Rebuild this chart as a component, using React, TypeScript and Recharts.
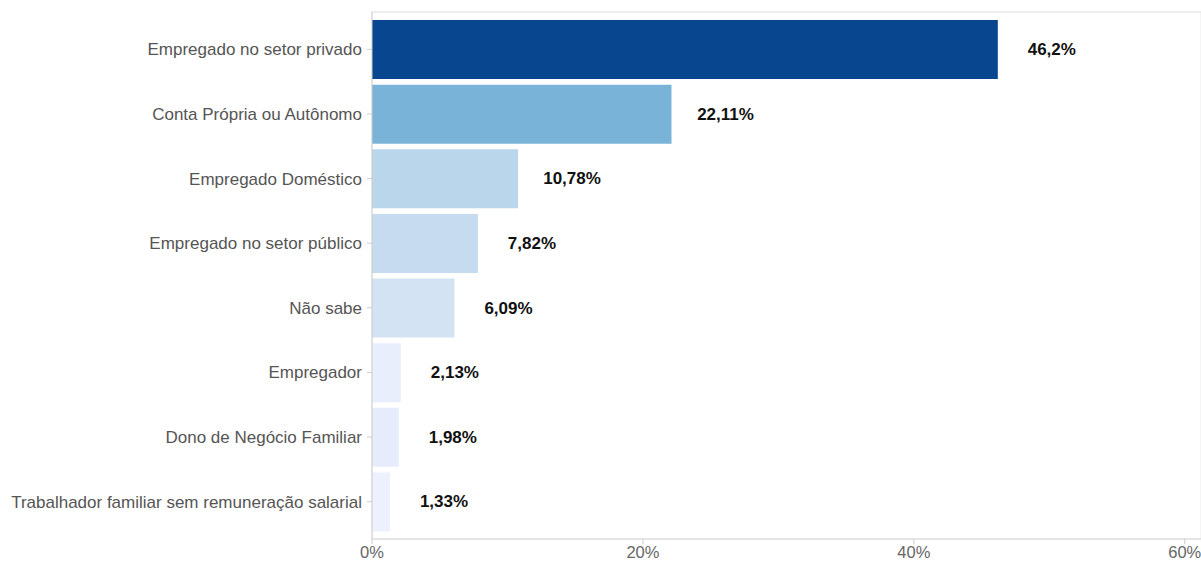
import React from "react";
import {
  BarChart,
  Bar,
  XAxis,
  YAxis,
  CartesianGrid,
  Cell,
  LabelList,
} from "recharts";

const categories = [
  "Empregado no setor privado",
  "Conta Própria ou Autônomo",
  "Empregado Doméstico",
  "Empregado no setor público",
  "Não sabe",
  "Empregador",
  "Dono de Negócio Familiar",
  "Trabalhador familiar sem remuneração salarial",
];

const values = [46.2, 22.11, 10.78, 7.82, 6.09, 2.13, 1.98, 1.33];

const colors = [
  "#08468f",
  "#79b4d8",
  "#bad6eb",
  "#c6dbef",
  "#d4e3f4",
  "#e8eefb",
  "#e6ecfb",
  "#ecf1fd",
];

const xTicks = [0, 20, 40, 60];
const gridTicks = [0, 10, 20, 30, 40, 50, 60];

const data = categories.map((name, i) => ({ name, value: values[i] }));

const fmt = (v: number) => String(v).replace(".", ",") + "%";

const ValueLabel = (props: any) => {
  const { x, y, width, height, value } = props;
  return (
    <text
      x={x + width + 54}
      y={y + height / 2}
      textAnchor="middle"
      dominantBaseline="central"
      fontSize={17}
      fontWeight="bold"
      fill="#111"
    >
      {fmt(value)}
    </text>
  );
};

export default function App() {
  return (
    <div style={{ position: "absolute", left: 0, top: 0, fontFamily: "Liberation Sans, Arial, sans-serif" }}>
      <BarChart
        width={1201}
        height={563}
        data={data}
        layout="vertical"
        margin={{ top: 11, right: 0, bottom: 0, left: 0 }}
        barCategoryGap={3}
      >
        <CartesianGrid xAxisId="top" horizontal={false} stroke="#ebebeb" />
        <XAxis
          xAxisId="top"
          orientation="top"
          type="number"
          domain={[0, 61.2]}
          ticks={gridTicks}
          tick={false}
          tickLine={false}
          stroke="#dddddd"
          height={1}
        />
        <XAxis
          type="number"
          domain={[0, 61.2]}
          ticks={xTicks}
          tickFormatter={(v) => `${v}%`}
          tick={{ fill: "#666", fontSize: 16.5 }}
          stroke="#cccccc"
          tickSize={5}
          tickMargin={2}
          height={24}
        />
        <YAxis
          type="category"
          dataKey="name"
          width={372}
          tick={{ fill: "#555", fontSize: 17 }}
          stroke="#cccccc"
          tickSize={5}
          tickMargin={5}
          padding={{ top: 5, bottom: 5 }}
        />
        <Bar dataKey="value" isAnimationActive={false}>
          {data.map((d, i) => (
            <Cell key={d.name} fill={colors[i]} />
          ))}
          <LabelList dataKey="value" content={ValueLabel} />
        </Bar>
      </BarChart>
    </div>
  );
}
